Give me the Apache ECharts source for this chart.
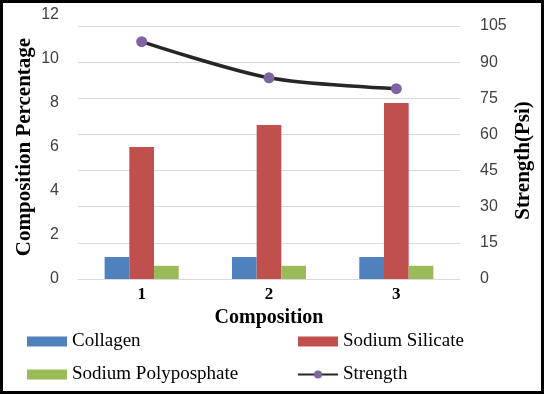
<!DOCTYPE html>
<html>
<head>
<meta charset="utf-8">
<script src="https://cdn.jsdelivr.net/npm/echarts@6/dist/echarts.min.js"></script>
<style>
  html, body { margin: 0; padding: 0; background: #fff; }
  #chart { width: 544px; height: 394px; }
</style>
</head>
<body>
<div id="chart"></div>
<script>
// 图表数据
var categories = ['1', '2', '3'];
var collagen = [1, 1, 1];
var sodiumSilicate = [6, 7, 8];
var sodiumPoly = [0.6, 0.6, 0.6];
var strength = [98.5, 83.5, 79];

var serif = "'Liberation Serif', 'Times New Roman', serif";
var sans = "'Liberation Sans', Arial, sans-serif";

var myChart = echarts.init(document.getElementById('chart'));

var legendText = { fontFamily: serif, fontSize: 19, color: '#000' };

var option = {
    backgroundColor: '#fff',
    animation: false,
    // 外框
    graphic: [{
        type: 'rect',
        shape: { x: 1.5, y: 1.5, width: 541, height: 391 },
        style: { fill: 'none', stroke: '#000', lineWidth: 3 },
        z: 100
    }],
    grid: [
        { left: 78, right: 84, top: 15, bottom: 115 },
        { left: 78, right: 84, top: 26, bottom: 115 }
    ],
    legend: [{
        orient: 'vertical',
        left: 27,
        top: 332,
        padding: 0,
        itemWidth: 40,
        itemHeight: 10,
        itemGap: 14,
        textStyle: legendText,
        data: [
            { name: 'Collagen', icon: 'rect' },
            { name: 'Sodium Polyposphate', icon: 'rect' }
        ]
    }, {
        orient: 'vertical',
        left: 297,
        top: 332,
        padding: 0,
        itemWidth: 40,
        itemHeight: 10,
        itemGap: 14,
        textStyle: legendText,
        data: [
            { name: 'Sodium Silicate', icon: 'rect' },
            { name: 'Strength' }
        ]
    }],
    xAxis: [{
        type: 'category',
        gridIndex: 0,
        data: categories,
        name: 'Composition',
        nameLocation: 'middle',
        nameGap: 28,
        nameTextStyle: { fontFamily: serif, fontSize: 20, fontWeight: 'bold', color: '#000' },
        axisLine: { lineStyle: { color: '#d9d9d9' } },
        axisTick: { show: false },
        axisLabel: { margin: 7, fontFamily: serif, fontSize: 17, fontWeight: 'bold', color: '#000' }
    }, {
        type: 'category',
        gridIndex: 1,
        data: categories,
        show: false
    }],
    yAxis: [{
        type: 'value',
        gridIndex: 0,
        min: 0,
        max: 12,
        interval: 2,
        position: 'left',
        name: 'Composition Percentage',
        nameLocation: 'middle',
        nameRotate: 90,
        nameGap: 43,
        nameMoveOverlap: false,
        nameTextStyle: { fontFamily: serif, fontSize: 21, fontWeight: 'bold', color: '#000' },
        splitLine: { show: false },
        axisLine: { show: false },
        axisTick: { show: false },
        axisLabel: { margin: 19, fontFamily: sans, fontSize: 16, color: '#404040' }
    }, {
        type: 'value',
        gridIndex: 1,
        min: 0,
        max: 105,
        interval: 15,
        position: 'right',
        name: 'Strength(Psi)',
        nameLocation: 'middle',
        nameRotate: 90,
        nameGap: 53,
        nameMoveOverlap: false,
        nameTextStyle: { fontFamily: serif, fontSize: 21, fontWeight: 'bold', color: '#000', padding: [0, 16, 0, 0] },
        splitLine: { lineStyle: { color: '#d9d9d9', width: 1 } },
        axisLine: { show: false },
        axisTick: { show: false },
        axisLabel: { margin: 20, fontFamily: sans, fontSize: 16, color: '#404040' }
    }],
    series: [{
        name: 'Collagen',
        type: 'bar',
        xAxisIndex: 0,
        yAxisIndex: 0,
        barWidth: 24.7,
        barGap: '0%',
        itemStyle: { color: '#4f81bd' },
        data: collagen
    }, {
        name: 'Sodium Silicate',
        type: 'bar',
        xAxisIndex: 0,
        yAxisIndex: 0,
        barWidth: 24.7,
        barGap: '0%',
        itemStyle: { color: '#c0504d' },
        data: sodiumSilicate
    }, {
        name: 'Sodium Polyposphate',
        type: 'bar',
        xAxisIndex: 0,
        yAxisIndex: 0,
        barWidth: 24.7,
        barGap: '0%',
        itemStyle: { color: '#9bbb59' },
        data: sodiumPoly
    }, {
        name: 'Strength',
        type: 'line',
        xAxisIndex: 1,
        yAxisIndex: 1,
        smooth: 0.3,
        symbol: 'circle',
        symbolSize: 11,
        lineStyle: { color: '#262626', width: 3.5 },
        itemStyle: { color: '#8064a2' },
        z: 10,
        data: strength
    }]
};

myChart.setOption(option);
</script>
</body>
</html>
